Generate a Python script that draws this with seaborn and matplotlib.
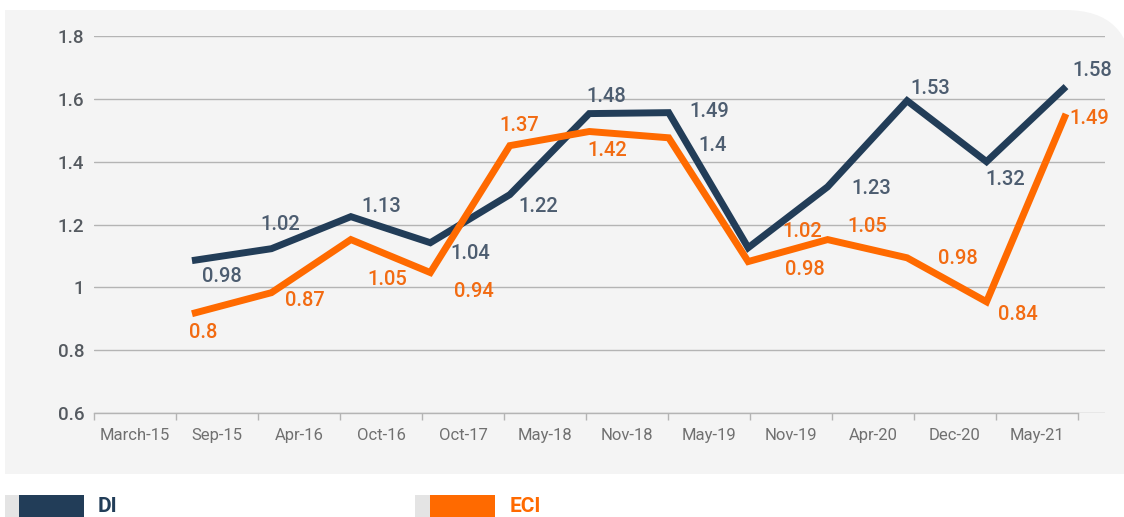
import numpy as np
import pandas as pd
import matplotlib.pyplot as plt
import seaborn as sns
from matplotlib.patches import FancyBboxPatch, Rectangle
from matplotlib.transforms import IdentityTransform


# chart data
periods = ["March-15", "Sep-15", "Apr-16", "Oct-16", "Oct-17", "May-18",
           "Nov-18", "May-19", "Nov-19", "Apr-20", "Dec-20", "May-21"]

di_line = [1.085, 1.123, 1.225, 1.142, 1.295, 1.553, 1.556, 1.126, 1.32, 1.594, 1.40, 1.639]
eci_line = [0.916, 0.983, 1.152, 1.047, 1.451, 1.496, 1.476, 1.082, 1.152, 1.094, 0.954, 1.552]

di_labels = ["0.98", "1.02", "1.13", "1.04", "1.22", "1.48", "1.49", "1.4", "1.23", "1.53", "1.32", "1.58"]
eci_labels = ["0.8", "0.87", "1.05", "0.94", "1.37", "1.42", "1.02", "0.98", "1.05", "0.98", "0.84", "1.49"]

y_ticks = [0.6, 0.8, 1.0, 1.2, 1.4, 1.6, 1.8]
y_tick_labels = ["0.6", "0.8", "1", "1.2", "1.4", "1.6", "1.8"]

# label offsets in pixels (style only)
di_offsets = [(30, -16), (9, 24), (30, 10), (40, -11), (28, -12), (17, 17),
              (41, 1), (-36, 102), (44, -2), (23, 12), (19, -18), (26, 16)]
eci_offsets = [(11, -19), (33, -8), (36, -40), (44, -19), (9, 20), (18, -19),
               (134, -94), (57, -8), (40, 13), (51, -1), (31, -13), (23, -5)]

navy = "#223d58"
navy_text = "#4d5d70"
orange = "#ff6a00"
orange_text = "#f26b12"
grid_col = "#b4b4b4"

sns.set_style("white")
plt.rcParams["font.family"] = ["Roboto", "DejaVu Sans"]

fig = plt.figure(figsize=(11.24, 5.17), dpi=100)
fig.patch.set_facecolor("white")

# grey panel with rounded top-right corner
panel_col = "#f4f4f4"
px = IdentityTransform()
fig.patches.append(FancyBboxPatch((5, 43), 1127, 464, boxstyle="round,pad=0,rounding_size=67",
                                  transform=px, facecolor=panel_col, edgecolor="none", zorder=-5))
fig.patches.append(Rectangle((5, 437), 80, 70, transform=px,
                             facecolor=panel_col, edgecolor="none", zorder=-5))
fig.patches.append(Rectangle((5, 43), 80, 70, transform=px,
                             facecolor=panel_col, edgecolor="none", zorder=-5))
fig.patches.append(Rectangle((1050, 43), 90, 80, transform=px,
                             facecolor=panel_col, edgecolor="none", zorder=-5))

ax = fig.add_axes([94 / 1124, 104 / 517, 1011 / 1124, 377 / 517])
ax.set_facecolor("none")
ax.set_zorder(2)

ax.set_xlim(-0.5, 11.83)
ax.set_ylim(0.6, 1.8)

ax.set_xticks(np.arange(-0.5, 12, 1))
ax.set_xticklabels([])
ax.set_xticks(np.arange(len(periods)), minor=True)
ax.set_xticklabels(periods, minor=True, fontsize=12, color="#707070")
ax.tick_params(axis="x", which="major", length=5, color=grid_col, width=1, direction="out")
ax.tick_params(axis="x", which="minor", length=0, pad=11)

ax.set_yticks(y_ticks)
ax.set_yticklabels(y_tick_labels, fontsize=13.5, color="#555a60", fontweight="medium")
ax.tick_params(axis="y", length=0, pad=7)
ax.grid(axis="y", color=grid_col, linewidth=1)

for s in ["top", "right", "left"]:
    ax.spines[s].set_visible(False)
ax.spines["bottom"].set_color(grid_col)
ax.spines["bottom"].set_linewidth(1)
ax.spines["bottom"].set_bounds(-0.5, 11.5)

# lines on their own index axis
ax2 = ax.twiny()
ax2.set_zorder(3)
ax2.set_xlim(-1.233, 11.491)
ax2.axis("off")

idx = np.arange(len(di_line))
df = pd.DataFrame({
    "idx": np.concatenate([idx, idx]),
    "value": di_line + eci_line,
    "series": ["DI"] * len(idx) + ["ECI"] * len(idx),
})

sns.lineplot(data=df, x="idx", y="value", hue="series",
             palette={"DI": navy, "ECI": orange}, linewidth=5,
             legend=False, ax=ax2)
for line in ax2.lines:
    line.set_solid_joinstyle("miter")
    line.set_solid_capstyle("butt")
ax2.set_ylim(0.6, 1.8)

for i in idx:
    ax2.annotate(di_labels[i], (i, di_line[i]), xytext=di_offsets[i], textcoords="offset pixels",
                 ha="center", va="center", fontsize=14.5, color=navy_text, fontweight="medium")
    ax2.annotate(eci_labels[i], (i, eci_line[i]), xytext=eci_offsets[i], textcoords="offset pixels",
                 ha="center", va="center", fontsize=14.5, color=orange_text, fontweight="medium")

# legend at the bottom
fig.patches.append(Rectangle((5, 0), 14, 22, transform=px, facecolor="#e4e4e4", edgecolor="none"))
fig.patches.append(Rectangle((19, 0), 65, 22, transform=px, facecolor=navy, edgecolor="none"))
fig.patches.append(Rectangle((415, 0), 15, 22, transform=px, facecolor="#e4e4e4", edgecolor="none"))
fig.patches.append(Rectangle((430, 0), 65, 22, transform=px, facecolor=orange, edgecolor="none"))
fig.text(98 / 1124, 20 / 517, "DI", fontsize=15, fontweight="bold", color=navy, va="top", ha="left")
fig.text(510 / 1124, 20 / 517, "ECI", fontsize=15, fontweight="bold", color=orange, va="top", ha="left")

plt.savefig("out.png", dpi=100)
